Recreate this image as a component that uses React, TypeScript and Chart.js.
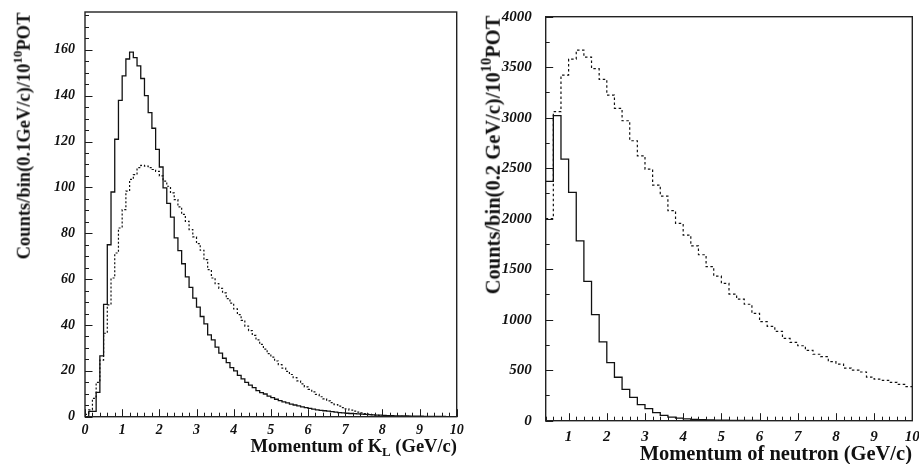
import React, { useEffect, useRef } from "react";
import { Chart, registerables } from "chart.js";

Chart.register(...registerables);

// ---------- Left panel: K_L momentum, 0.1 GeV/c bins from 0 to 10 ----------
const leftBinStart = 0;
const leftBinWidth = 0.1;
const leftSolid = [
  0, 2.3, 2.3, 10.6, 26.5, 49, 75, 98, 121, 138,
  148.6, 156, 159, 156.6, 153, 147.5, 140, 132.6, 125.8, 116.6,
  108.9, 99.8, 93, 87, 78, 72.4, 66.7, 61, 56.4, 51.7,
  47.8, 43.7, 40.5, 35.7, 33.5, 30.3, 27.7, 25.5, 23.6, 21.4,
  20, 18, 16.5, 15, 13.8, 12.7, 11.4, 10.5, 9.9, 9.0,
  8.3, 7.6, 7.0, 6.5, 6.0, 5.5, 5.1, 4.7, 4.3, 4.0,
  3.6, 3.3, 3.0, 2.8, 2.6, 2.4, 2.2, 2.0, 1.8, 1.7,
  1.5, 1.4, 1.3, 1.2, 1.1, 1.0, 0.9, 0.8, 0.7, 0.65,
  0.6, 0.5, 0.45, 0.4, 0.35, 0.3, 0.3, 0.25, 0.2, 0.2,
  0.2, 0.15, 0.15, 0.1, 0.1, 0.1, 0.1, 0.05, 0.05, 0.05,
];
const leftDotted = [
  1, 3, 8, 15, 24.7, 36.4, 48.8, 60.5, 71.4, 82.3,
  90.3, 98.4, 103.5, 105.6, 108.6, 109.6, 109.3, 108.6, 107.8, 107,
  105, 102.7, 100.5, 97.6, 94.7, 91.5, 88.2, 85.2, 81.6, 78.4,
  75.5, 72.6, 68.5, 64.1, 60.5, 58, 56, 54, 51.5, 49.5,
  47, 44.5, 42, 39.5, 37.5, 35.5, 33.5, 31.5, 29.5, 27.5,
  26, 24.3, 22.7, 21.2, 19.8, 18.4, 17, 15.6, 14.3, 13,
  11.9, 10.8, 9.7, 8.7, 7.8, 6.9, 6.1, 5.3, 4.6, 4.0,
  3.4, 2.9, 2.4, 2.0, 1.7, 1.4, 1.1, 0.9, 0.7, 0.5,
  0.4, 0.3, 0.25, 0.2, 0.15, 0.1, 0.1, 0.1, 0.08, 0.08,
  0.05, 0.05, 0.05, 0.05, 0.03, 0.03, 0.03, 0.02, 0.02, 0.02,
];
const leftXTicks = [0, 1, 2, 3, 4, 5, 6, 7, 8, 9, 10];
const leftYTicks = [0, 20, 40, 60, 80, 100, 120, 140, 160];

// ---------- Right panel: neutron momentum, 0.2 GeV/c bins from 0.4 to 10 ----------
const rightBinStart = 0.4;
const rightBinWidth = 0.2;
const rightSolid = [
  2370, 3020, 2590, 2260, 1780, 1380, 1050, 780, 575, 430,
  310, 230, 160, 120, 80, 52, 36, 26, 19, 14,
  10, 8, 6, 5, 4, 3.2, 2.6, 2, 1.6, 1.3,
  1, 0.8, 0.6, 0.5, 0.4, 0.3, 0.25, 0.2, 0.15, 0.12,
  0.1, 0.08, 0.06, 0.05, 0.04, 0.03, 0.02, 0.02,
];
const rightDotted = [
  2000, 3060, 3422, 3580, 3670, 3600, 3485, 3380, 3224, 3092,
  2970, 2772, 2622, 2490, 2333, 2224, 2079, 1954, 1838, 1731,
  1643, 1525, 1432, 1360, 1254, 1203, 1153, 1063, 980, 934,
  885, 815, 775, 742, 696, 658, 634, 584, 561, 521,
  500, 482, 432, 411, 400, 380, 360, 337,
];
const rightXTicks = [1, 2, 3, 4, 5, 6, 7, 8, 9, 10];
const rightYTicks = [0, 500, 1000, 1500, 2000, 2500, 3000, 3500, 4000];

const SERIF = '"Liberation Serif", "Times New Roman", serif';

function histPoints(values: number[], start: number, width: number) {
  const pts = values.map((v, i) => ({ x: +(start + i * width).toFixed(3), y: v }));
  pts.push({ x: +(start + values.length * width).toFixed(3), y: values[values.length - 1] });
  return pts;
}

function range(from: number, to: number, step: number) {
  const out: number[] = [];
  const n = Math.round((to - from) / step);
  for (let i = 0; i <= n; i++) out.push(+(from + i * step).toFixed(3));
  return out;
}

const frameTicks = {
  id: "frameTicks",
  afterDatasetsDraw(chart: any, _args: any, opts: any) {
    const { ctx, chartArea: a, scales } = chart;
    const x = scales.x;
    const y = scales.y;
    ctx.save();
    ctx.strokeStyle = "#1a1a1a";
    ctx.lineWidth = 1;
    ctx.beginPath();
    for (const v of opts.xMinor) {
      const px = Math.round(x.getPixelForValue(v)) + 0.5;
      ctx.moveTo(px, a.bottom);
      ctx.lineTo(px, a.bottom - 4);
    }
    for (const v of opts.xMajor) {
      const px = Math.round(x.getPixelForValue(v)) + 0.5;
      ctx.moveTo(px, a.bottom);
      ctx.lineTo(px, a.bottom - 7.5);
    }
    for (const v of opts.yMinor) {
      const py = Math.round(y.getPixelForValue(v)) + 0.5;
      ctx.moveTo(a.left, py);
      ctx.lineTo(a.left + 4, py);
    }
    for (const v of opts.yMajor) {
      const py = Math.round(y.getPixelForValue(v)) + 0.5;
      ctx.moveTo(a.left, py);
      ctx.lineTo(a.left + 7.5, py);
    }
    ctx.stroke();
    ctx.lineWidth = 1.4;
    ctx.strokeStyle = "#222";
    ctx.strokeRect(a.left, a.top, a.right - a.left, a.bottom - a.top);
    ctx.restore();
  },
};

function zeroPad(s: any) {
  s.paddingTop = 0;
  s.paddingBottom = 0;
  s.paddingLeft = 0;
  s.paddingRight = 0;
}

function makeConfig(p: {
  solid: number[];
  dotted: number[];
  start: number;
  width: number;
  xmin: number;
  xmax: number;
  ymax: number;
  xTicks: number[];
  yTicks: number[];
  xMinor: number[];
  yMinor: number[];
  padding: { left: number; top: number; right: number; bottom: number };
  yAxisWidth: number;
  xAxisHeight: number;
  fontSize: number;
  yPad: number;
  xPad: number;
  dash: number[];
}): any {
  const font = { family: SERIF, size: p.fontSize, weight: "bold", style: "italic" };
  return {
    type: "line",
    data: {
      datasets: [
        {
          data: histPoints(p.solid, p.start, p.width),
          stepped: "before",
          borderColor: "#111",
          borderWidth: 1.3,
          pointRadius: 0,
          fill: false,
        },
        {
          data: histPoints(p.dotted, p.start, p.width),
          stepped: "before",
          borderColor: "#111",
          borderWidth: 1.2,
          borderDash: p.dash,
          pointRadius: 0,
          fill: false,
        },
      ],
    },
    options: {
      animation: false,
      responsive: false,
      devicePixelRatio: 1,
      layout: { padding: p.padding },
      plugins: {
        legend: { display: false },
        tooltip: { enabled: false },
        frameTicks: { xMajor: p.xTicks, yMajor: p.yTicks, xMinor: p.xMinor, yMinor: p.yMinor },
      },
      scales: {
        x: {
          type: "linear",
          min: p.xmin,
          max: p.xmax,
          grid: { display: false, drawTicks: false },
          border: { display: false },
          ticks: {
            font,
            color: "#111",
            padding: p.xPad,
            autoSkip: false,
            maxRotation: 0,
            callback: (v: any) => String(v),
          },
          afterBuildTicks: (s: any) => {
            s.ticks = p.xTicks.map((v) => ({ value: v }));
          },
          afterFit: (s: any) => {
            s.height = p.xAxisHeight;
            zeroPad(s);
          },
        },
        y: {
          type: "linear",
          min: 0,
          max: p.ymax,
          grid: { display: false, drawTicks: false },
          border: { display: false },
          ticks: {
            font,
            color: "#111",
            padding: p.yPad,
            autoSkip: false,
            callback: (v: any) => String(v),
          },
          afterBuildTicks: (s: any) => {
            s.ticks = p.yTicks.map((v) => ({ value: v }));
          },
          afterFit: (s: any) => {
            s.width = p.yAxisWidth;
            zeroPad(s);
          },
        },
      },
    },
    plugins: [frameTicks],
  };
}

export default function App() {
  const leftRef = useRef<HTMLCanvasElement>(null);
  const rightRef = useRef<HTMLCanvasElement>(null);

  useEffect(() => {
    const left = new Chart(
      leftRef.current as HTMLCanvasElement,
      makeConfig({
        solid: leftSolid,
        dotted: leftDotted,
        start: leftBinStart,
        width: leftBinWidth,
        xmin: 0,
        xmax: 10,
        ymax: 176.5,
        xTicks: leftXTicks,
        yTicks: leftYTicks,
        xMinor: range(0, 10, 0.2),
        yMinor: range(0, 175, 5),
        padding: { left: 0, top: 12, right: 13.3, bottom: 0 },
        yAxisWidth: 85,
        xAxisHeight: 47.3,
        fontSize: 14,
        yPad: 10,
        xPad: 5,
        dash: [2, 2],
      })
    );
    const right = new Chart(
      rightRef.current as HTMLCanvasElement,
      makeConfig({
        solid: rightSolid,
        dotted: rightDotted,
        start: rightBinStart,
        width: rightBinWidth,
        xmin: 0.4,
        xmax: 10,
        ymax: 4000,
        xTicks: rightXTicks,
        yTicks: rightYTicks,
        xMinor: range(0.4, 10, 0.2),
        yMinor: range(0, 4000, 250),
        padding: { left: 0, top: 16.7, right: 17.7, bottom: 0 },
        yAxisWidth: 85.7,
        xAxisHeight: 43.3,
        fontSize: 15,
        yPad: 14,
        xPad: 7,
        dash: [2.5, 2.5],
      })
    );
    return () => {
      left.destroy();
      right.destroy();
    };
  }, []);

  const titleBase: React.CSSProperties = {
    position: "absolute",
    fontFamily: SERIF,
    fontWeight: "bold",
    whiteSpace: "nowrap",
    lineHeight: 1,
    color: "#111",
  };
  const supStyle: React.CSSProperties = {
    fontSize: "0.7em",
    lineHeight: 0,
    verticalAlign: "baseline",
    position: "relative",
    top: "-0.6em",
  };
  const subStyle: React.CSSProperties = {
    fontSize: "0.7em",
    lineHeight: 0,
    verticalAlign: "baseline",
    position: "relative",
    top: "0.3em",
  };

  return (
    <div
      style={{
        position: "absolute",
        left: 0,
        top: 0,
        width: 919,
        height: 464,
        overflow: "hidden",
        background: "#fff",
      }}
    >
      <canvas
        ref={leftRef}
        width={470}
        height={464}
        style={{ position: "absolute", left: 0, top: 0, width: 470, height: 464 }}
      />
      <canvas
        ref={rightRef}
        width={470}
        height={464}
        style={{ position: "absolute", left: 460, top: 0, width: 470, height: 464 }}
      />
      <div
        style={{
          ...titleBase,
          fontSize: 18.5,
          left: 23.5,
          top: 135.5,
          transform: "translate(-50%, -50%) rotate(-90deg)",
        }}
      >
        Counts/bin(0.1GeV/c)/10<span style={supStyle}>10</span>POT
      </div>
      <div
        style={{
          ...titleBase,
          fontSize: 20.5,
          left: 492.5,
          top: 155,
          transform: "translate(-50%, -50%) rotate(-90deg)",
        }}
      >
        Counts/bin(0.2 GeV/c)/10<span style={supStyle}>10</span>POT
      </div>
      <div style={{ ...titleBase, fontSize: 18.5, right: 919 - 457, top: 437 }}>
        Momentum of K<span style={subStyle}>L</span> (GeV/c)
      </div>
      <div style={{ ...titleBase, fontSize: 20.5, right: 919 - 912, top: 443 }}>
        Momentum of neutron (GeV/c)
      </div>
    </div>
  );
}
